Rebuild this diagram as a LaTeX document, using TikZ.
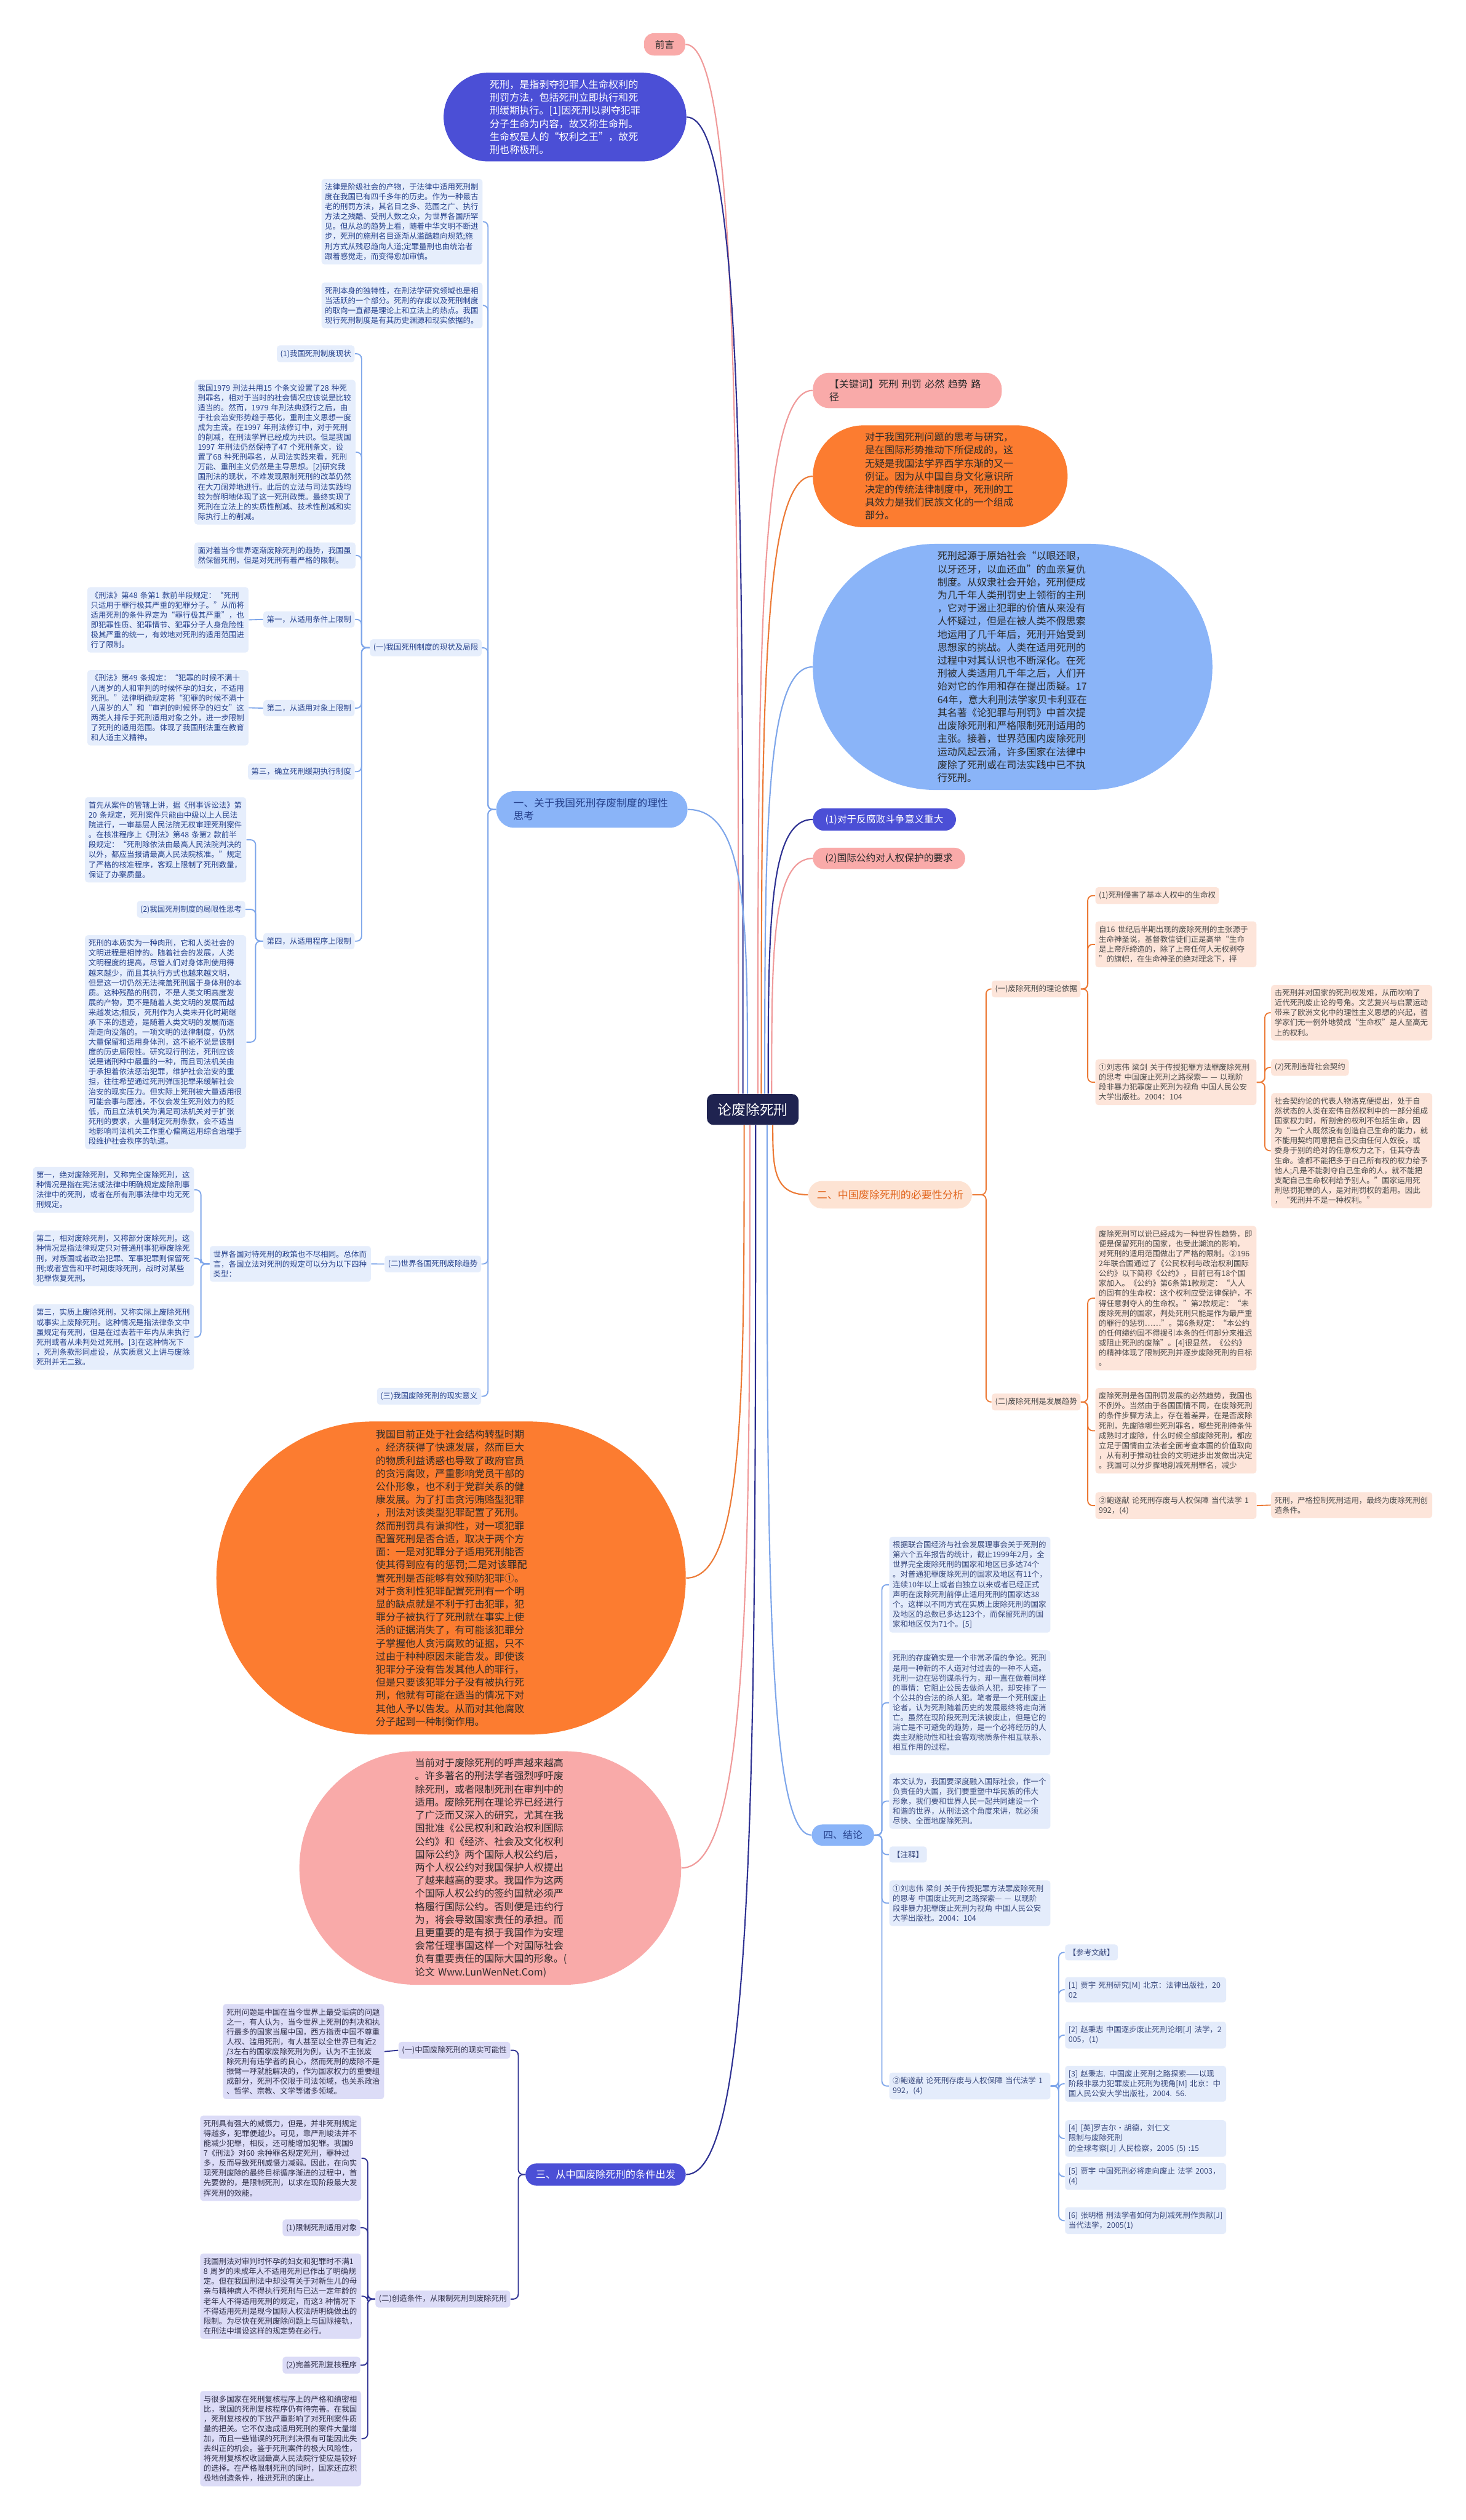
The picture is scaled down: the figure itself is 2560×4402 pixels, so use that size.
\documentclass[tikz,border=0pt]{standalone}
\usepackage{fontspec}
\newfontfamily\cjk{Noto Sans CJK SC}
\newcommand\leaffont{\cjk\fontsize{4.69}{6.05}\selectfont}
\newcommand\stadfont{\cjk\fontsize{6.05}{7.98}\selectfont}
\definecolor{navy}{HTML}{1F2350}
\definecolor{indf}{HTML}{4B4FD6}
\definecolor{indl}{HTML}{2E3192}
\definecolor{pkf}{HTML}{F9AAA9}
\definecolor{pkl}{HTML}{F09A9A}
\definecolor{orf}{HTML}{FC7C30}
\definecolor{orl}{HTML}{EC7A36}
\definecolor{blf}{HTML}{8AB4F8}
\definecolor{bll}{HTML}{7EA6EA}
\definecolor{lfa}{HTML}{E6EEFC}
\definecolor{lta}{HTML}{26418C}
\definecolor{lfb}{HTML}{FDE5DA}
\definecolor{ltb}{HTML}{4A4A4A}
\definecolor{lfc}{HTML}{DCDCF7}
\definecolor{ltc}{HTML}{30304A}
\definecolor{lfd}{HTML}{E4ECFB}
\definecolor{ltd}{HTML}{3A4A7E}
\definecolor{dk}{HTML}{2B2B2B}
\definecolor{erf}{HTML}{FDE3D3}
\definecolor{ert}{HTML}{E2661E}
\begin{document}
\begin{tikzpicture}[x=0.35pt,y=-0.35pt,
  leaf/.style={font=\leaffont, rounded corners=1.8pt, inner xsep=2.1pt, inner ysep=2.7pt, align=left},
  blk/.style={leaf, anchor=north west, text width=94.3pt},
  ga/.style={fill=lfa, text=lta},
  gb/.style={fill=lfb, text=ltb},
  gc/.style={fill=lfc, text=ltc},
  gd/.style={fill=lfd, text=ltd},
  stad/.style={font=\stadfont, align=left, inner sep=0pt},
  lna/.style={draw=bll, line width=0.7pt, rounded corners=3pt},
  lnb/.style={draw=orl, line width=0.7pt, rounded corners=3pt},
  lnc/.style={draw=indl, line width=0.7pt, rounded corners=3pt},
  mainln/.style={line width=0.8pt}
]
\fill[white] (0,0) rectangle (2560,4402);
\useasboundingbox (0,0) rectangle (2560,4402);

% ---------- center ----------
\node[fill=navy, text=white, font=\cjk\fontsize{8.6}{10}\selectfont, rounded corners=4pt, minimum width=56pt, minimum height=18.9pt, inner sep=0pt] (cn) at (1315,1938) {论废除死刑};

% ---------- top / right singles ----------
\node[fill=pkf, text=dk, font=\cjk\fontsize{5.85}{7}\selectfont, rounded corners=6pt, minimum width=25.2pt, minimum height=13.65pt, inner sep=0pt] (qy) at (1161,77.5) {前言};

\node[stad, fill=indf, text=white, minimum width=148.4pt, minimum height=54.25pt, rounded corners=27.1pt, text width=92pt] (ie) at (987,204.5) {死刑，是指剥夺犯罪人生命权利的\\刑罚方法，包括死刑立即执行和死\\刑缓期执行。[1]因死刑以剥夺犯罪\\分子生命为内容，故又称生命刑。\\生命权是人的“权利之王”，故死\\刑也称极刑。};

\node[fill=pkf, text=dk, font=\stadfont, align=left, rounded corners=10pt, minimum width=115.5pt, minimum height=21.7pt, inner xsep=10pt, text width=95.5pt, inner ysep=0pt] (kw) at (1585,682) {【关键词】死刑 刑罚 必然 趋势 路\\径};

\node[stad, fill=orf, text=dk, minimum width=155.75pt, minimum height=62.3pt, rounded corners=31.15pt, text width=92pt] (ors) at (1642.5,832) {对于我国死刑问题的思考与研究，\\是在国际形势推动下所促成的，这\\无疑是我国法学界西学东渐的又一\\例证。因为从中国自身文化意识所\\决定的传统法律制度中，死刑的工\\具效力是我们民族文化的一个组成\\部分。};

\node[stad, fill=blf, text=dk, minimum width=244.3pt, minimum height=150.5pt, rounded corners=75.2pt, text width=92pt] (bls) at (1769,1165) {死刑起源于原始社会“以眼还眼，\\以牙还牙，以血还血”的血亲复仇\\制度。从奴隶社会开始，死刑便成\\为几千年人类刑罚史上领衔的主刑\\，它对于遏止犯罪的价值从来没有\\人怀疑过，但是在被人类不假思索\\地运用了几千年后，死刑开始受到\\思想家的挑战。人类在适用死刑的\\过程中对其认识也不断深化。在死\\刑被人类适用几千年之后，人们开\\始对它的作用和存在提出质疑。17\\64年，意大利刑法学家贝卡利亚在\\其名著《论犯罪与刑罚》中首次提\\出废除死刑和严格限制死刑适用的\\主张。接着，世界范围内废除死刑\\运动风起云涌，许多国家在法律中\\废除了死刑或在司法实践中已不执\\行死刑。};

\node[fill=indf, text=white, font=\cjk\fontsize{5.9}{7}\selectfont, rounded corners=6.8pt, minimum width=87.5pt, minimum height=13.65pt, inner sep=0pt] (p1) at (1545,1431.5) {(1)对于反腐败斗争意义重大};
\node[fill=pkf, text=dk, font=\cjk\fontsize{5.9}{7}\selectfont, rounded corners=6.5pt, minimum width=93.1pt, minimum height=13pt, inner sep=0pt] (p2) at (1553,1499.5) {(2)国际公约对人权保护的要求};

\node[stad, fill=orf, text=dk, minimum width=287pt, minimum height=191.45pt, rounded corners=95.7pt, text width=92pt] (ol) at (788,2756.5) {我国目前正处于社会结构转型时期\\。经济获得了快速发展，然而巨大\\的物质利益诱惑也导致了政府官员\\的贪污腐败，严重影响党员干部的\\公仆形象，也不利于党群关系的健\\康发展。为了打击贪污贿赂型犯罪\\，刑法对该类型犯罪配置了死刑。\\然而刑罚具有谦抑性，对一项犯罪\\配置死刑是否合适，取决于两个方\\面：一是对犯罪分子适用死刑能否\\使其得到应有的惩罚;二是对该罪配\\置死刑是否能够有效预防犯罪①。\\对于贪利性犯罪配置死刑有一个明\\显的缺点就是不利于打击犯罪，犯\\罪分子被执行了死刑就在事实上使\\活的证据消失了，有可能该犯罪分\\子掌握他人贪污腐败的证据，只不\\过由于种种原因未能告发。即使该\\犯罪分子没有告发其他人的罪行，\\但是只要该犯罪分子没有被执行死\\刑，他就有可能在适当的情况下对\\其他人予以告发。从而对其他腐败\\分子起到一种制衡作用。};

\node[stad, fill=pkf, text=dk, minimum width=233.45pt, minimum height=142.8pt, rounded corners=71.4pt, text width=92pt] (pl) at (856.5,3263) {当前对于废除死刑的呼声越来越高\\。许多著名的刑法学者强烈呼吁废\\除死刑，或者限制死刑在审判中的\\适用。废除死刑在理论界已经进行\\了广泛而又深入的研究，尤其在我\\国批准《公民权利和政治权利国际\\公约》和《经济、社会及文化权利\\国际公约》两个国际人权公约后，\\两个人权公约对我国保护人权提出\\了越来越高的要求。我国作为这两\\个国际人权公约的签约国就必须严\\格履行国际公约。否则便是违约行\\为，将会导致国家责任的承担。而\\且更重要的是有损于我国作为安理\\会常任理事国这样一个对国际社会\\负有重要责任的国际大国的形象。(\\论文 Www.LunWenNet.Com)};

% ---------- branch 一 ----------
\node[fill=blf, text=lta, font=\cjk\fontsize{6.3}{7.8}\selectfont, align=left, rounded corners=11pt, minimum width=116.9pt, minimum height=22.4pt, inner xsep=8pt, inner ysep=0pt, text width=96pt] (y1) at (1034,1414) {一、关于我国死刑存废制度的理性\\思考};

\node[blk,ga] (a1) at (561,312) {法律是阶级社会的产物，于法律中适用死刑制\\度在我国已有四千多年的历史。作为一种最古\\老的刑罚方法，其名目之多、范围之广、执行\\方法之残酷、受刑人数之众，为世界各国所罕\\见。但从总的趋势上看，随着中华文明不断进\\步，死刑的施刑名目逐渐从滥酷趋向规范;施\\刑方式从残忍趋向人道;定罪量刑也由统治者\\跟着感觉走，而变得愈加审慎。};
\node[blk,ga] (a2) at (561,493) {死刑本身的独特性，在刑法学研究领域也是相\\当活跃的一个部分。死刑的存废以及死刑制度\\的取向一直都是理论上和立法上的热点。我国\\现行死刑制度是有其历史渊源和现实依据的。};
\node[leaf,ga,anchor=east] (b0) at (842,1131.5) {(一)我国死刑制度的现状及局限};
\node[leaf,ga,anchor=east] (b1) at (620,618) {(1)我国死刑制度现状};
\node[blk,ga] (b2) at (339,663) {我国1979 刑法共用15 个条文设置了28 种死\\刑罪名，相对于当时的社会情况应该说是比较\\适当的。然而，1979 年刑法典颁行之后，由\\于社会治安形势趋于恶化，重刑主义思想一度\\成为主流。在1997 年刑法修订中，对于死刑\\的削减，在刑法学界已经成为共识。但是我国\\1997 年刑法仍然保持了47 个死刑条文，设\\置了68 种死刑罪名，从司法实践来看，死刑\\万能、重刑主义仍然是主导思想。[2]研究我\\国刑法的现状，不难发现限制死刑的改革仍然\\在大刀阔斧地进行。此后的立法与司法实践均\\较为鲜明地体现了这一死刑政策。最终实现了\\死刑在立法上的实质性削减、技术性削减和实\\际执行上的削减。};
\node[blk,ga] (b3) at (339,947) {面对着当今世界逐渐废除死刑的趋势，我国虽\\然保留死刑，但是对死刑有着严格的限制。};
\node[leaf,ga,anchor=east] (b4) at (620,1082) {第一，从适用条件上限制};
\node[blk,ga] (b4a) at (152,1025) {《刑法》第48 条第1 款前半段规定：“死刑\\只适用于罪行极其严重的犯罪分子。”从而将\\适用死刑的条件界定为“罪行极其严重”，也\\即犯罪性质、犯罪情节、犯罪分子人身危险性\\极其严重的统一，有效地对死刑的适用范围进\\行了限制。};
\node[leaf,ga,anchor=east] (b5) at (620,1237) {第二，从适用对象上限制};
\node[blk,ga] (b5a) at (152,1170) {《刑法》第49 条规定：“犯罪的时候不满十\\八周岁的人和审判的时候怀孕的妇女，不适用\\死刑。”法律明确规定将“犯罪的时候不满十\\八周岁的人”和“审判的时候怀孕的妇女”这\\两类人排斥于死刑适用对象之外，进一步限制\\了死刑的适用范围。体现了我国刑法重在教育\\和人道主义精神。};
\node[leaf,ga,anchor=east] (b6) at (620,1348) {第三，确立死刑缓期执行制度};
\node[leaf,ga,anchor=east] (b7) at (620,1644) {第四，从适用程序上限制};
\node[blk,ga] (b7a) at (148,1392) {首先从案件的管辖上讲，据《刑事诉讼法》第\\20 条规定，死刑案件只能由中级以上人民法\\院进行，一审基层人民法院无权审理死刑案件\\。在核准程序上《刑法》第48 条第2 款前半\\段规定：“死刑除依法由最高人民法院判决的\\以外，都应当报请最高人民法院核准。”规定\\了严格的核准程序，客观上限制了死刑数量，\\保证了办案质量。};
\node[leaf,ga,anchor=east] (b7b) at (429,1588.5) {(2)我国死刑制度的局限性思考};
\node[blk,ga] (b7c) at (148,1633) {死刑的本质实为一种肉刑，它和人类社会的\\文明进程是相悖的。随着社会的发展，人类\\文明程度的提高，尽管人们对身体刑使用得\\越来越少，而且其执行方式也越来越文明，\\但是这一切仍然无法掩盖死刑属于身体刑的本\\质。这种残酷的刑罚，不是人类文明高度发\\展的产物，更不是随着人类文明的发展而越\\来越发达;相反，死刑作为人类未开化时期继\\承下来的遗迹，是随着人类文明的发展而逐\\渐走向没落的。一项文明的法律制度，仍然\\大量保留和适用身体刑，这不能不说是该制\\度的历史局限性。研究现行刑法，死刑应该\\说是诸刑种中最重的一种，而且司法机关由\\于承担着依法惩治犯罪，维护社会治安的重\\担，往往希望通过死刑弹压犯罪来缓解社会\\治安的现实压力。但实际上死刑被大量适用很\\可能会事与愿违，不仅会发生死刑效力的贬\\低，而且立法机关为满足司法机关对于扩张\\死刑的要求，大量制定死刑条款，会不适当\\地影响司法机关工作重心偏离运用综合治理手\\段维护社会秩序的轨道。};
\node[leaf,ga,anchor=east] (c0) at (841,2208) {(二)世界各国死刑废除趋势};
\node[blk,ga] (c1) at (366,2176) {世界各国对待死刑的政策也不尽相同。总体而\\言，各国立法对死刑的规定可以分为以下四种\\类型：};
\node[blk,ga] (c1a) at (57,2038) {第一，绝对废除死刑，又称完全废除死刑，这\\种情况是指在宪法或法律中明确规定废除刑事\\法律中的死刑，或者在所有刑事法律中均无死\\刑规定。};
\node[blk,ga] (c1b) at (57,2149) {第二，相对废除死刑，又称部分废除死刑。这\\种情况是指法律规定只对普通刑事犯罪废除死\\刑，对叛国或者政治犯罪、军事犯罪则保留死\\刑;或者宣告和平时期废除死刑，战时对某些\\犯罪恢复死刑。};
\node[blk,ga] (c1c) at (57,2278) {第三，实质上废除死刑，又称实际上废除死刑\\或事实上废除死刑。这种情况是指法律条文中\\虽规定有死刑，但是在过去若干年内从未执行\\死刑或者从未判处过死刑。[3]在这种情况下\\，死刑条款形同虚设，从实质意义上讲与废除\\死刑并无二致。};
\node[leaf,ga,anchor=east] (d0) at (841,2439) {(三)我国废除死刑的现实意义};

% ---------- branch 二 ----------
\node[fill=erf, text=ert, font=\cjk\fontsize{6.4}{7.6}\selectfont, rounded corners=8.4pt, minimum width=100.1pt, minimum height=16.8pt, inner sep=0pt] (e0) at (1555,2087) {二、中国废除死刑的必要性分析};
\node[leaf,gb,anchor=west] (e1) at (1732,1727.5) {(一)废除死刑的理论依据};
\node[leaf,gb,anchor=west] (e11) at (1913,1564.5) {(1)死刑侵害了基本人权中的生命权};
\node[blk,gb] (e12) at (1913,1609) {自16 世纪后半期出现的废除死刑的主张源于\\生命神圣说，基督教信徒们正是高举“生命\\是上帝所缔造的，除了上帝任何人无权剥夺\\”的旗帜，在生命神圣的绝对理念下，抨};
\node[blk,gb] (e13) at (1913,1850) {①刘志伟 梁剑 关于传授犯罪方法罪废除死刑\\的思考 中国废止死刑之路探索— — 以现阶\\段非暴力犯罪废止死刑为视角 中国人民公安\\大学出版社。2004：104};
\node[blk,gb] (e131) at (2220,1720) {击死刑并对国家的死刑权发难，从而吹响了\\近代死刑废止论的号角。文艺复兴与启蒙运动\\带来了欧洲文化中的理性主义思想的兴起，哲\\学家们无一例外地赞成“生命权”是人至高无\\上的权利。};
\node[leaf,gb,anchor=west] (e132) at (2220,1864.5) {(2)死刑违背社会契约};
\node[blk,gb] (e133) at (2220,1909) {社会契约论的代表人物洛克便提出，处于自\\然状态的人类在宏伟自然权利中的一部分组成\\国家权力时，所割舍的权利不包括生命，因\\为“一个人既然没有创造自己生命的能力，就\\不能用契约同意把自己交由任何人奴役，或\\委身于别的绝对的任意权力之下，任其夺去\\生命。谁都不能把多于自己所有权的权力给予\\他人;凡是不能剥夺自己生命的人，就不能把\\支配自己生命权利给予别人。”国家运用死\\刑惩罚犯罪的人，是对刑罚权的滥用。因此\\，“死刑并不是一种权利。”};
\node[leaf,gb,anchor=west] (e2) at (1732,2449) {(二)废除死刑是发展趋势};
\node[blk,gb] (e21) at (1913,2141) {废除死刑可以说已经成为一种世界性趋势，即\\便是保留死刑的国家，也受此潮流的影响，\\对死刑的适用范围做出了严格的限制。②196\\2年联合国通过了《公民权利与政治权利国际\\公约》以下简称《公约》，目前已有18个国\\家加入。《公约》第6条第1款规定：“人人\\的固有的生命权：这个权利应受法律保护，不\\得任意剥夺人的生命权。”第2款规定：“未\\废除死刑的国家，判处死刑只能是作为最严重\\的罪行的惩罚……”。第6条规定：“本公约\\的任何缔约国不得援引本条的任何部分来推迟\\或阻止死刑的废除”。[4]很显然，《公约》\\的精神体现了限制死刑并逐步废除死刑的目标\\。};
\node[blk,gb] (e22) at (1913,2424) {废除死刑是各国刑罚发展的必然趋势，我国也\\不例外。当然由于各国国情不同，在废除死刑\\的条件步骤方法上，存在着差异，在是否废除\\死刑，先废除哪些死刑罪名，哪些死刑待条件\\成熟时才废除，什么时候全部废除死刑，都应\\立足于国情由立法者全面考查本国的价值取向\\，从有利于推动社会的文明进步出发做出决定\\。我国可以分步骤地削减死刑罪名，减少};
\node[blk,gb] (e23) at (1913,2606) {②鲍遂献 论死刑存废与人权保障 当代法学 1\\992，(4)};
\node[blk,gb] (e231) at (2220,2606) {死刑，严格控制死刑适用，最终为废除死刑创\\造条件。};

% ---------- branch 四 ----------
\node[fill=blf, text=lta, font=\cjk\fontsize{6}{7}\selectfont, rounded corners=6.4pt, minimum width=38.15pt, minimum height=12.95pt, inner sep=0pt] (f0) at (1472.5,3205.5) {四、结论};
\node[blk,gd] (f1) at (1553,2684) {根据联合国经济与社会发展理事会关于死刑的\\第六个五年报告的统计，截止1999年2月，全\\世界完全废除死刑的国家和地区已多达74个\\。对普通犯罪废除死刑的国家及地区有11个，\\连续10年以上或者自独立以来或者已经正式\\声明在废除死刑前停止适用死刑的国家达38\\个。这样以不同方式在实质上废除死刑的国家\\及地区的总数已多达123个，而保留死刑的国\\家和地区仅为71个。[5]};
\node[blk,gd] (f2) at (1553,2882) {死刑的存废确实是一个非常矛盾的争论。死刑\\是用一种新的不人道对付过去的一种不人道。\\死刑一边在惩罚谋杀行为，却一直在做着同样\\的事情：它阻止公民去做杀人犯，却安排了一\\个公共的合法的杀人犯。笔者是一个死刑废止\\论者，认为死刑随着历史的发展最终将走向消\\亡。虽然在现阶段死刑无法被废止，但是它的\\消亡是不可避免的趋势，是一个必将经历的人\\类主观能动性和社会客观物质条件相互联系、\\相互作用的过程。};
\node[blk,gd] (f3) at (1553,3097) {本文认为，我国要深度融入国际社会，作一个\\负责任的大国，我们要重塑中华民族的伟大\\形象，我们要和世界人民一起共同建设一个\\和谐的世界，从刑法这个角度来讲，就必须\\尽快、全面地废除死刑。};
\node[leaf,gd,anchor=west] (f4) at (1553,3239.5) {【注释】};
\node[blk,gd] (f5) at (1553,3284) {①刘志伟 梁剑 关于传授犯罪方法罪废除死刑\\的思考 中国废止死刑之路探索— — 以现阶\\段非暴力犯罪废止死刑为视角 中国人民公安\\大学出版社。2004：104};
\node[blk,gd] (f6) at (1553,3620) {②鲍遂献 论死刑存废与人权保障 当代法学 1\\992，(4)};
\node[leaf,gd,anchor=west] (r0) at (1860,3410.5) {【参考文献】};
\node[blk,gd] (r1) at (1860,3453) {[1] 贾宇 死刑研究[M] 北京：法律出版社，20\\02};
\node[blk,gd] (r2) at (1860,3531) {[2] 赵秉志 中国逐步废止死刑论纲[J] 法学，2\\005，(1)};
\node[blk,gd] (r3) at (1860,3608) {[3] 赵秉志. 中国废止死刑之路探索——以现\\阶段非暴力犯罪废止死刑为视角[M] 北京：中\\国人民公安大学出版社，2004. 56.};
\node[blk,gd] (r4) at (1860,3703) {[4] [英]罗吉尔•胡德，刘仁文 限制与废除死刑\\的全球考察[J] 人民检察，2005 (5) :15};
\node[blk,gd] (r5) at (1860,3778) {[5] 贾宇 中国死刑必将走向废止 法学 2003，\\(4)};
\node[blk,gd] (r6) at (1860,3855) {[6] 张明楷 刑法学者如何为削减死刑作贡献[J]\\当代法学，2005(1)};

% ---------- branch 三 ----------
\node[fill=indf, text=white, font=\cjk\fontsize{6.1}{7}\selectfont, rounded corners=6.8pt, minimum width=98pt, minimum height=13.65pt, inner sep=0pt] (g0) at (1058,3798.5) {三、从中国废除死刑的条件出发};
\node[leaf,gc,anchor=east] (g1) at (892,3581.5) {(一)中国废除死刑的现实可能性};
\node[blk,gc] (g11) at (389,3500) {死刑问题是中国在当今世界上最受诟病的问题\\之一，有人认为，当今世界上死刑的判决和执\\行最多的国家当属中国，西方指责中国不尊重\\人权、滥用死刑，有人甚至以全世界已有近2\\/3左右的国家废除死刑为例，认为不主张废\\除死刑有违学者的良心，然而死刑的废除不是\\振臂一呼就能解决的，作为国家权力的重要组\\成部分，死刑不仅限于司法领域，也关系政治\\、哲学、宗教、文学等诸多领域。};
\node[leaf,gc,anchor=east] (g2) at (892,4016) {(二)创造条件，从限制死刑到废除死刑};
\node[blk,gc] (g21) at (349,3695) {死刑具有强大的威慑力，但是，并非死刑规定\\得越多，犯罪便越少。可见，靠严刑峻法并不\\能减少犯罪，相反，还可能增加犯罪。我国9\\7《刑法》对60 余种罪名规定死刑，罪种过\\多，反而导致死刑威慑力减弱。因此，在向实\\现死刑废除的最终目标循序渐进的过程中，首\\先要做的，是限制死刑，以求在现阶段最大发\\挥死刑的效能。};
\node[leaf,gc,anchor=east] (g22) at (630,3891.5) {(1)限制死刑适用对象};
\node[blk,gc] (g23) at (349,3936) {我国刑法对审判时怀孕的妇女和犯罪时不满1\\8 周岁的未成年人不适用死刑已作出了明确规\\定。但在我国刑法中却没有关于对新生儿的母\\亲与精神病人不得执行死刑与已达一定年龄的\\老年人不得适用死刑的规定，而这3 种情况下\\不得适用死刑是现今国际人权法所明确做出的\\限制。为尽快在死刑废除问题上与国际接轨，\\在刑法中增设这样的规定势在必行。};
\node[leaf,gc,anchor=east] (g24) at (630,4131.5) {(2)完善死刑复核程序};
\node[blk,gc] (g25) at (349,4176) {与很多国家在死刑复核程序上的严格和缜密相\\比，我国的死刑复核程序仍有待完善。在我国\\，死刑复核权的下放严重影响了对死刑案件质\\量的把关。它不仅造成适用死刑的案件大量增\\加，而且一些错误的死刑判决很有可能因此失\\去纠正的机会。鉴于死刑案件的极大风险性，\\将死刑复核权收回最高人民法院行使应是较好\\的选择。在严格限制死刑的同时，国家还应积\\极地创造条件，推进死刑的废止。};

% ---------- subtree connectors ----------
\foreach \c in {a1,a2,b0,c0,d0} \draw[lna] (y1.west) -- ++(-14,0) |- (\c.east);
\foreach \c in {b1,b2,b3,b4,b5,b6,b7} \draw[lna] (b0.west) -- ++(-14,0) |- (\c.east);
\draw[lna] (b4.west) -- (b4a.east);
\draw[lna] (b5.west) -- (b5a.east);
\foreach \c in {b7a,b7b,b7c} \draw[lna] (b7.west) -- ++(-13,0) |- (\c.east);
\draw[lna] (c0.west) -- (c1.east);
\foreach \c in {c1a,c1b,c1c} \draw[lna] (c1.west) -- ++(-15,0) |- (\c.east);

\foreach \c in {e1,e2} \draw[lnb] (e0.east) -- ++(24,0) |- (\c.west);
\foreach \c in {e11,e12,e13} \draw[lnb] (e1.east) -- ++(12,0) |- (\c.west);
\foreach \c in {e131,e132,e133} \draw[lnb] (e13.east) -- ++(14,0) |- (\c.west);
\foreach \c in {e21,e22,e23} \draw[lnb] (e2.east) -- ++(12,0) |- (\c.west);
\draw[lnb] (e23.east) -- (e231.west);

\foreach \c in {f1,f2,f3,f4,f5,f6} \draw[lna] (f0.east) -- ++(13,0) |- (\c.west);
\foreach \c in {r0,r1,r2,r3,r4,r5,r6} \draw[lna] (f6.east) -- ++(14,0) |- (\c.west);

\foreach \c in {g1,g2} \draw[lnc] (g0.west) -- ++(-12,0) |- (\c.east);
\draw[lnc] (g1.west) -- (g11.east);
\foreach \c in {g21,g22,g23,g24,g25} \draw[lnc] (g2.west) -- ++(-13,0) |- (\c.east);

% ---------- main connectors ----------
\draw[mainln, pkl] ([xshift=-8.75pt]cn.north) .. controls (1290,811) and (1290,78) .. (qy.east);
\draw[mainln, indl] ([xshift=-6pt]cn.north) .. controls (1298,887) and (1298,205) .. (ie.east);
\draw[mainln, bll] ([xshift=-3.2pt]cn.north) .. controls (1306,1613) and (1306,1414) .. (y1.east);
\draw[mainln, pkl] ([xshift=3.15pt]cn.north) .. controls (1324,1173) and (1324,682) .. (kw.west);
\draw[mainln, orl] ([xshift=5.25pt]cn.north) .. controls (1330,1264) and (1330,832) .. (ors.west);
\draw[mainln, bll] ([xshift=7.35pt]cn.north) .. controls (1336,1463) and (1336,1165) .. (bls.west);
\draw[mainln, indl] ([xshift=9.45pt]cn.north) .. controls (1342,1623) and (1342,1431) .. (p1.west);
\draw[mainln, pkl] ([xshift=11.55pt]cn.north) .. controls (1348,1664) and (1348,1500) .. (p2.west);
\draw[mainln, orl] ([xshift=12.25pt]cn.south) .. controls (1350,2038) and (1350,2087) .. (e0.west);
\draw[mainln, bll] ([xshift=8.75pt]cn.south) .. controls (1340,2709) and (1340,3205) .. (f0.west);
\draw[mainln, orl] ([xshift=-5.25pt]cn.south) .. controls (1300,2440) and (1300,2757) .. (ol.east);
\draw[mainln, pkl] ([xshift=-1.75pt]cn.south) .. controls (1310,2744) and (1310,3263) .. (pl.east);
\draw[mainln, indl] ([xshift=1.75pt]cn.south) .. controls (1320,3065) and (1320,3798) .. (g0.east);
\end{tikzpicture}
\end{document}
